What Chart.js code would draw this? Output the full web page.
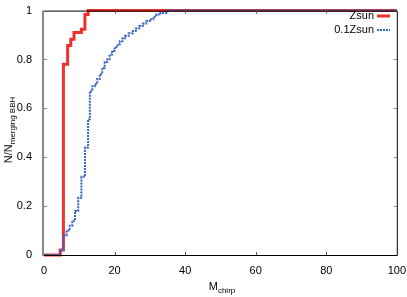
<!DOCTYPE html>
<html>
<head>
<meta charset="utf-8">
<script src="https://cdn.jsdelivr.net/npm/chart.js@4"></script>
<style>
  body { margin: 0; background: #fff; }
  canvas { display: block; }
</style>
</head>
<body>
<canvas id="cdf" width="407" height="297"></canvas>
<script>
// cumulative fraction of merging BBH vs chirp mass
const zsunMass = [0, 4.6, 5.5, 6.7, 7.6, 8.5, 10.6, 11.6, 12.5, 100];
const zsunFrac = [0, 0.02, 0.78, 0.857, 0.883, 0.91, 0.924, 0.984, 1.0, 1.0];

const lowZMass = [0, 4.5, 5.5, 6.4, 7.3, 8.0, 8.8, 9.7, 10.6, 11.6, 12.5, 13.0, 13.7, 14.4,
  15.1, 15.8, 16.5, 17.2, 17.9, 18.6, 19.3, 20.0, 20.8, 21.5, 22.2, 22.9, 24.0, 25.2,
  26.0, 27.0, 28.0, 29.0, 30.0, 31.0, 31.8, 33.0, 35.0, 100];
const lowZFrac = [0, 0.02, 0.08, 0.1, 0.12, 0.14, 0.18, 0.234, 0.32, 0.44, 0.555, 0.67, 0.69, 0.70,
  0.72, 0.74, 0.765, 0.79, 0.80, 0.82, 0.835, 0.85, 0.862, 0.875, 0.886, 0.897, 0.907, 0.917,
  0.927, 0.937, 0.947, 0.957, 0.965, 0.975, 0.984, 0.99, 1.0, 1.0];

const xTicks = [0, 20, 40, 60, 80, 100];
const yTicks = [0, 0.2, 0.4, 0.6, 0.8, 1];

const seriesNames = ["Zsun", "0.1Zsun"];
const red = "#f0302e";
const blue = "#3a64c2";
const FONT = "'Liberation Sans', Arial, sans-serif";

const toPoints = (xs, ys) => xs.map((x, i) => ({ x: x, y: ys[i] }));

// frame, inward ticks, axis titles with subscripts, legend
const decorations = {
  id: "decorations",
  afterDraw(chart) {
    const ctx = chart.ctx;
    const a = chart.chartArea;
    const xs = chart.scales.x, ys = chart.scales.y;
    ctx.save();

    // frame
    ctx.strokeStyle = "#000";
    ctx.lineWidth = 1;
    ctx.beginPath();
    ctx.moveTo(a.left, a.top + 0.5);
    ctx.lineTo(a.right + 0.5, a.top + 0.5);
    ctx.lineTo(a.right + 0.5, a.bottom + 0.5);
    ctx.lineTo(a.left, a.bottom + 0.5);
    ctx.stroke();
    ctx.strokeStyle = "#8a8a8a";
    ctx.lineWidth = 2;
    ctx.beginPath();
    ctx.moveTo(a.left - 1, a.top);
    ctx.lineTo(a.left - 1, a.bottom + 1);
    ctx.stroke();

    // ticks
    ctx.lineWidth = 1;
    xTicks.slice(1, -1).forEach(v => {
      const px = Math.round(xs.getPixelForValue(v)) + 0.5;
      ctx.strokeStyle = "#555";
      ctx.beginPath();
      ctx.moveTo(px, a.bottom); ctx.lineTo(px, a.bottom - 3);
      ctx.moveTo(px, a.top); ctx.lineTo(px, a.top + 3);
      ctx.stroke();
    });
    yTicks.slice(1, -1).forEach(v => {
      const py = Math.round(ys.getPixelForValue(v)) + 0.5;
      ctx.strokeStyle = "#888";
      ctx.beginPath();
      ctx.moveTo(a.left, py); ctx.lineTo(a.left + 3, py);
      ctx.moveTo(a.right, py); ctx.lineTo(a.right - 3, py);
      ctx.stroke();
    });

    // x title: M_chirp
    ctx.fillStyle = "#000";
    ctx.textBaseline = "alphabetic";
    ctx.textAlign = "left";
    ctx.font = "11px " + FONT;
    const mW = ctx.measureText("M").width;
    ctx.font = "8px " + FONT;
    const subW = ctx.measureText("chirp").width;
    let x0 = 222 - (mW + subW) / 2;
    ctx.font = "11px " + FONT;
    ctx.fillText("M", x0, 290);
    ctx.font = "8px " + FONT;
    ctx.fillText("chirp", x0 + mW, 293);

    // y title: N/N_merging BBH
    ctx.save();
    ctx.translate(12, 130);
    ctx.rotate(-Math.PI / 2);
    ctx.font = "11px " + FONT;
    const nW = ctx.measureText("N/N").width;
    ctx.font = "8px " + FONT;
    const sW = ctx.measureText("merging BBH").width;
    x0 = -(nW + sW) / 2;
    ctx.font = "11px " + FONT;
    ctx.fillText("N/N", x0, 0);
    ctx.font = "8px " + FONT;
    ctx.fillText("merging BBH", x0 + nW, 3);
    ctx.restore();

    // legend
    ctx.font = "11px " + FONT;
    ctx.textAlign = "right";
    ctx.textBaseline = "middle";
    ctx.fillText(seriesNames[0], 374, 16);
    ctx.fillText(seriesNames[1], 374, 30);
    ctx.strokeStyle = red;
    ctx.lineWidth = 3;
    ctx.beginPath();
    ctx.moveTo(377, 16); ctx.lineTo(390, 16);
    ctx.stroke();
    ctx.strokeStyle = blue;
    ctx.lineWidth = 2;
    ctx.setLineDash([2, 1]);
    ctx.beginPath();
    ctx.moveTo(377, 30); ctx.lineTo(390, 30);
    ctx.stroke();

    ctx.restore();
  }
};

new Chart(document.getElementById("cdf"), {
  type: "line",
  data: {
    datasets: [
      {
        label: seriesNames[0],
        data: toPoints(zsunMass, zsunFrac),
        stepped: "before",
        borderColor: red,
        borderWidth: 3,
        pointRadius: 0,
        fill: false,
        order: 1,
        clip: false,
      },
      {
        label: seriesNames[1],
        data: toPoints(lowZMass, lowZFrac),
        stepped: "before",
        borderColor: blue,
        borderWidth: 2,
        borderDash: [2, 1],
        pointRadius: 0,
        fill: false,
        order: 0,
        clip: false,
      },
    ],
  },
  options: {
    responsive: false,
    animation: false,
    events: [],
    layout: { padding: { top: 6, right: 9, left: 0, bottom: 0 } },
    plugins: { legend: { display: false }, tooltip: { enabled: false } },
    scales: {
      x: {
        type: "linear",
        min: 0,
        max: 100,
        afterBuildTicks: (s) => { s.ticks = xTicks.map(v => ({ value: v })); },
        ticks: { color: "#000", font: { size: 11, family: FONT }, padding: 1, maxRotation: 0 },
        grid: { display: false },
        border: { display: false },
        afterFit: (s) => { s.height = 42; },
      },
      y: {
        type: "linear",
        min: 0,
        max: 1,
        afterBuildTicks: (s) => { s.ticks = yTicks.map(v => ({ value: v })); },
        ticks: { color: "#000", font: { size: 11, family: FONT }, padding: 4,
                 callback: (v) => String(Math.round(v * 10) / 10) },
        grid: { display: false },
        border: { display: false },
        afterFit: (s) => { s.width = 44; },
      },
    },
  },
  plugins: [decorations],
});
</script>
</body>
</html>
